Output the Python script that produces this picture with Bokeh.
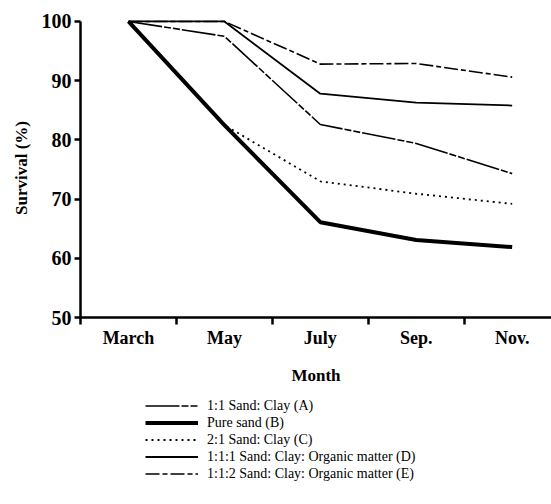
from bokeh.plotting import figure
from bokeh.models import Range1d, FixedTicker, Legend, LegendItem
from bokeh.layouts import column
from bokeh.embed import file_html
from bokeh.resources import INLINE

months = ["March", "May", "July", "Sep.", "Nov."]
y_ticks = [50, 60, 70, 80, 90, 100]
series_names = [
    "1:1 Sand: Clay (A)",
    "Pure sand (B)",
    "2:1 Sand: Clay (C)",
    "1:1:1 Sand: Clay: Organic matter (D)",
    "1:1:2 Sand: Clay: Organic matter (E)",
]
sand_clay_A = [100, 97.5, 82.6, 79.4, 74.3]
pure_sand_B = [100, 82.5, 66.1, 63.1, 61.9]
sand_clay_C = [100, 82.5, 73.0, 70.9, 69.2]
organic_D = [100, 100, 87.8, 86.3, 85.8]
organic_E = [100, 100, 92.8, 92.9, 90.6]

xs = list(range(len(months)))
font = "Liberation Serif"

p = figure(frame_width=471, frame_height=299, output_backend="svg", toolbar_location=None,
           x_range=Range1d(-0.5, 4.41), y_range=Range1d(50, 100.5),
           min_border_left=80, min_border_right=0, min_border_top=18,
           min_border_bottom=0)
p.outline_line_color = None
p.xgrid.grid_line_color = None
p.ygrid.grid_line_color = None

styles = [
    dict(line_width=1.6, line_dash="34 2 7 2 7 2"),
    dict(line_width=4, line_dash="solid"),
    dict(line_width=1.8, line_dash="2 4"),
    dict(line_width=1.8, line_dash="solid"),
    dict(line_width=1.6, line_dash="14 3 5 3"),
]
data = [sand_clay_A, pure_sand_B, sand_clay_C, organic_D, organic_E]
for ys, st in zip(data, styles):
    p.line(xs, ys, line_color="black", line_join="round", **st)

# x axis
xa = p.xaxis[0]
xa.ticker = FixedTicker(ticks=xs, minor_ticks=[-0.5, 0.5, 1.5, 2.5, 3.5])
xa.major_label_overrides = {i: m for i, m in enumerate(months)}
xa.major_tick_out = 0
xa.major_tick_in = 0
xa.minor_tick_out = 7
xa.minor_tick_in = 0
xa.minor_tick_line_width = 2.5
xa.minor_tick_line_color = "black"
xa.axis_line_width = 2.5
xa.axis_line_color = "black"
xa.major_label_standoff = 3
xa.major_label_text_font = font
xa.major_label_text_font_style = "bold"
xa.major_label_text_font_size = "18px"
xa.major_label_text_color = "black"
xa.axis_label = "Month"
xa.axis_label_text_font = font
xa.axis_label_text_font_style = "bold"
xa.axis_label_text_font_size = "17px"
xa.axis_label_text_color = "black"
xa.axis_label_standoff = 15

# y axis
ya = p.yaxis[0]
ya.ticker = FixedTicker(ticks=y_ticks)
ya.bounds = (50, 100)
ya.major_tick_out = 6
ya.major_tick_in = 0
ya.major_tick_line_width = 2.5
ya.minor_tick_out = 0
ya.minor_tick_in = 0
ya.axis_line_width = 2.5
ya.axis_line_color = "black"
ya.major_tick_line_color = "black"
ya.major_label_standoff = 3
ya.major_label_text_font = font
ya.major_label_text_font_style = "bold"
ya.major_label_text_font_size = "20px"
ya.major_label_text_color = "black"
ya.axis_label = "Survival (%)"
ya.axis_label_text_font = font
ya.axis_label_text_font_style = "bold"
ya.axis_label_text_font_size = "17px"
ya.axis_label_text_color = "black"
ya.axis_label_standoff = 8

# legend figure: same series, kept out of its visible range so only the legend shows
p2 = figure(width=551, height=100, output_backend="svg", toolbar_location=None,
            x_range=Range1d(0, 1), y_range=Range1d(0, 1),
            min_border=0, x_axis_type=None, y_axis_type=None)
p2.outline_line_color = None
p2.xgrid.grid_line_color = None
p2.ygrid.grid_line_color = None
items = []
for name, ys, st in zip(series_names, data, styles):
    r = p2.line(xs, ys, line_color="black", **st)
    items.append(LegendItem(label=name, renderers=[r]))

legend = Legend(items=items, location=(65, 5), orientation="vertical",
                glyph_width=53, glyph_height=17, label_height=17,
                label_standoff=9, spacing=0, padding=0, margin=0,
                border_line_color=None, background_fill_alpha=0,
                label_text_font=font, label_text_font_size="14px",
                label_text_color="black")
p2.add_layout(legend, "center")

layout = column(p, p2, spacing=0)
open("out.html", "w").write(file_html(layout, INLINE))
